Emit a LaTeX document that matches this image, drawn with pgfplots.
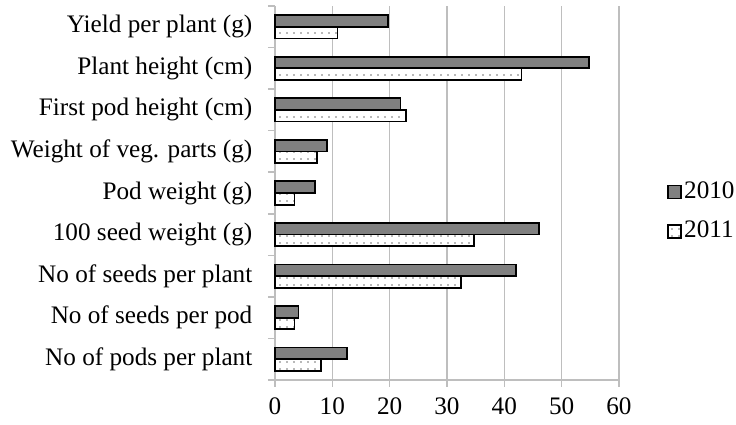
\documentclass[border=0pt]{standalone}
\usepackage{pgfplots}
\pgfplotsset{compat=1.18}
\usepackage{fontspec}
\setmainfont{Liberation Serif}
\usetikzlibrary{patterns.meta}
\definecolor{bardark}{RGB}{128,128,128}
\definecolor{gridgray}{RGB}{190,190,190}
\begin{document}
\fontsize{12.4bp}{15bp}\selectfont
\begin{tikzpicture}
\begin{axis}[
  scale only axis,
  width=172bp, height=187bp,
  xbar,
  xmin=0, xmax=60,
  ymin=-0.5, ymax=8.5,
  xtick={0,10,...,60},
  ytick={-0.5,0.5,...,8.5},
  y tick label as interval,
  yticklabels={No of pods per plant, No of seeds per pod, No of seeds per plant, 100 seed weight (g), Pod weight (g), Weight of veg. parts (g), First pod height (cm), Plant height (cm), Yield per plant (g)},
  axis x line=bottom,
  axis y line=left,
  axis line style={-, gridgray, line width=0.75bp},
  xmajorgrids,
  major grid style={gridgray, line width=0.75bp},
  tick align=outside,
  major tick length=3.5bp,
  every tick/.style={gridgray, line width=0.75bp},
  y tick label style={xshift=-3.5bp},
  x tick label style={yshift=-1bp},
  /pgf/number format/assume math mode=true,
  tick label style={font=\fontsize{12.6bp}{15bp}\selectfont},
  bar width=0.28,
  legend style={draw=none, at={(rel axis cs:1,0.45)}, anchor=west, xshift=21bp,
    font=\fontsize{12.6bp}{15bp}\selectfont, row sep=7.5bp,
    nodes={inner sep=1bp}},
  legend cell align=left,
  legend image code/.code={\draw[#1] (0bp,-3.25bp) rectangle (6.5bp,3.25bp);},
  clip=false,
]
\addplot[bar shift=0.14, fill=bardark, draw=black, line width=0.9bp] coordinates {
  (12.5,0) (4.1,1) (42.1,2) (46.1,3) (7.0,4) (9.1,5) (21.9,6) (54.8,7) (19.7,8)
};
\addlegendentry{2010}
\addplot[bar shift=-0.14, fill=white, draw=black, line width=0.9bp,
  postaction={pattern={Dots[radius=0.45bp, distance=3.5bp]}, pattern color=black!55}] coordinates {
  (8.0,0) (3.4,1) (32.4,2) (34.7,3) (3.4,4) (7.3,5) (22.8,6) (43.0,7) (10.9,8)
};
\addlegendentry{2011}
\coordinate (BL) at (rel axis cs:0,0);
\coordinate (TR) at (rel axis cs:1,1);
\end{axis}
\pgfresetboundingbox
\useasboundingbox ([shift={(-137.5bp,-22.5bp)}]BL) rectangle ([shift={(58.5bp,3bp)}]TR);
\end{tikzpicture}
\end{document}
